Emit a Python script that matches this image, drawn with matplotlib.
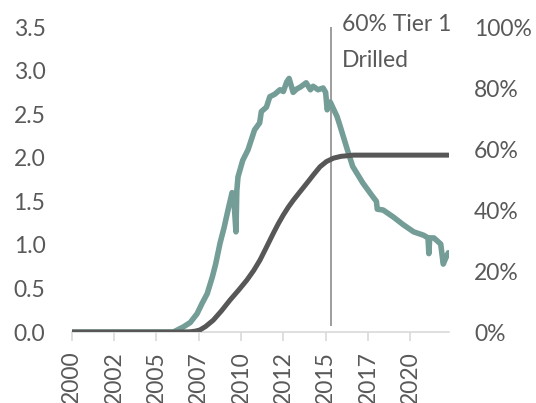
import matplotlib
matplotlib.use("Agg")
import matplotlib.pyplot as plt
from matplotlib.ticker import FuncFormatter, FixedLocator

plt.rcParams["font.family"] = ["Lato", "DejaVu Sans"]

# teal series (left axis)
rate_year = [2000.0, 2006.0, 2006.2, 2006.6, 2007.0, 2007.4, 2007.7, 2008.0, 2008.3,
             2008.5, 2008.76, 2009.0, 2009.23, 2009.47, 2009.6, 2009.7, 2009.75,
             2009.82, 2010.1, 2010.41, 2010.8, 2011.1, 2011.2, 2011.5, 2011.7,
             2012.0, 2012.3, 2012.5, 2012.7, 2012.84, 2013.08, 2013.3, 2013.5,
             2013.85, 2014.1, 2014.26, 2014.55, 2014.85, 2015.0, 2015.09, 2015.27,
             2015.68, 2015.86, 2016.27, 2016.6, 2017.2, 2017.8, 2018.0, 2018.05,
             2018.4, 2019.0, 2019.6, 2020.2, 2020.8, 2021.05, 2021.1, 2021.15,
             2021.4, 2021.8, 2021.95, 2022.1, 2022.25]
rate_value = [0.0, 0.0, 0.02, 0.06, 0.11, 0.21, 0.33, 0.44, 0.63,
              0.78, 1.02, 1.20, 1.40, 1.60, 1.45, 1.15, 1.62,
              1.78, 1.97, 2.09, 2.32, 2.40, 2.53, 2.58, 2.70,
              2.73, 2.78, 2.76, 2.87, 2.91, 2.75, 2.79, 2.81,
              2.86, 2.78, 2.82, 2.78, 2.80, 2.75, 2.55, 2.64,
              2.47, 2.36, 2.10, 1.90, 1.71, 1.55, 1.50, 1.41,
              1.40, 1.32, 1.23, 1.15, 1.11, 1.08, 0.90, 1.08,
              1.08, 1.01, 0.78, 0.85, 0.91]

# cumulative share drilled (right axis), percent
cum_year = [2000.0, 2006.4, 2007.0, 2007.3, 2007.57, 2007.9, 2008.36, 2008.85,
            2009.35, 2009.85, 2010.34, 2010.75, 2011.12, 2011.5, 2011.91, 2012.2,
            2012.5, 2012.8, 2013.1, 2013.5, 2013.89, 2014.3, 2014.67, 2015.05,
            2015.46, 2015.9, 2016.64, 2022.25]
cum_pct = [0.0, 0.0, 0.1, 0.3, 0.7, 1.8, 3.9, 7.0,
           10.5, 13.7, 17.0, 20.2, 23.6, 27.8, 32.4, 35.5,
           38.4, 41.0, 43.3, 46.1, 48.8, 51.7, 54.2, 55.9,
           57.0, 57.6, 58.0, 58.0]

tick_years = [2000, 2002.5, 2005, 2007.5, 2010, 2012.5, 2015, 2017.5, 2020]
marker_year = 2015.33
marker_label = "60% Tier 1\nDrilled"

TEXT = "#595959"
TEAL = "#739d96"
DARK = "#575757"
FS = 16.5

fig = plt.figure(figsize=(5.36, 4.03), dpi=100)
ax = fig.add_axes([0.134, 0.176, 0.704, 0.757])
ax2 = ax.twinx()

ax.vlines(marker_year, 0.07, 3.5, color="#8c8c8c", lw=1.2, zorder=1)
ax.plot(rate_year, rate_value, color=TEAL, lw=4.0, solid_capstyle="round",
        solid_joinstyle="round", zorder=2)
ax2.plot(cum_year, [p / 100 for p in cum_pct], color=DARK, lw=3.6,
         solid_capstyle="round", solid_joinstyle="round", zorder=3)

ax.set_xlim(2000, 2022.3)
ax.set_ylim(0, 3.5)
ax2.set_ylim(0, 1.0)

ax.set_yticks([0, 0.5, 1.0, 1.5, 2.0, 2.5, 3.0, 3.5])
ax.yaxis.set_major_formatter(FuncFormatter(lambda v, _: f"{v:.1f}"))
ax2.set_yticks([0, 0.2, 0.4, 0.6, 0.8, 1.0])
ax2.yaxis.set_major_formatter(FuncFormatter(lambda v, _: f"{v:.0%}"))

ax.xaxis.set_major_locator(FixedLocator(tick_years))
ax.xaxis.set_major_formatter(FuncFormatter(lambda v, _: f"{int(v)}"))

for a in (ax, ax2):
    for s in a.spines.values():
        s.set_visible(False)
ax.spines["bottom"].set_visible(True)
ax.spines["bottom"].set_color("#d9d9d9")
ax.spines["bottom"].set_linewidth(1.2)

ax.tick_params(axis="x", direction="out", length=6.5, width=1.2, color="#d9d9d9",
               labelcolor=TEXT, labelsize=FS, rotation=90, pad=7)
ax.tick_params(axis="y", length=0, labelcolor=TEXT, labelsize=FS, pad=19)
ax2.tick_params(axis="y", length=0, labelcolor=TEXT, labelsize=FS, pad=18)

ax.text(2015.98, 3.32, marker_label, color=TEXT, fontsize=FS, ha="left",
        va="center", linespacing=1.85, clip_on=False, zorder=4)

fig.savefig("out.png", dpi=100)
